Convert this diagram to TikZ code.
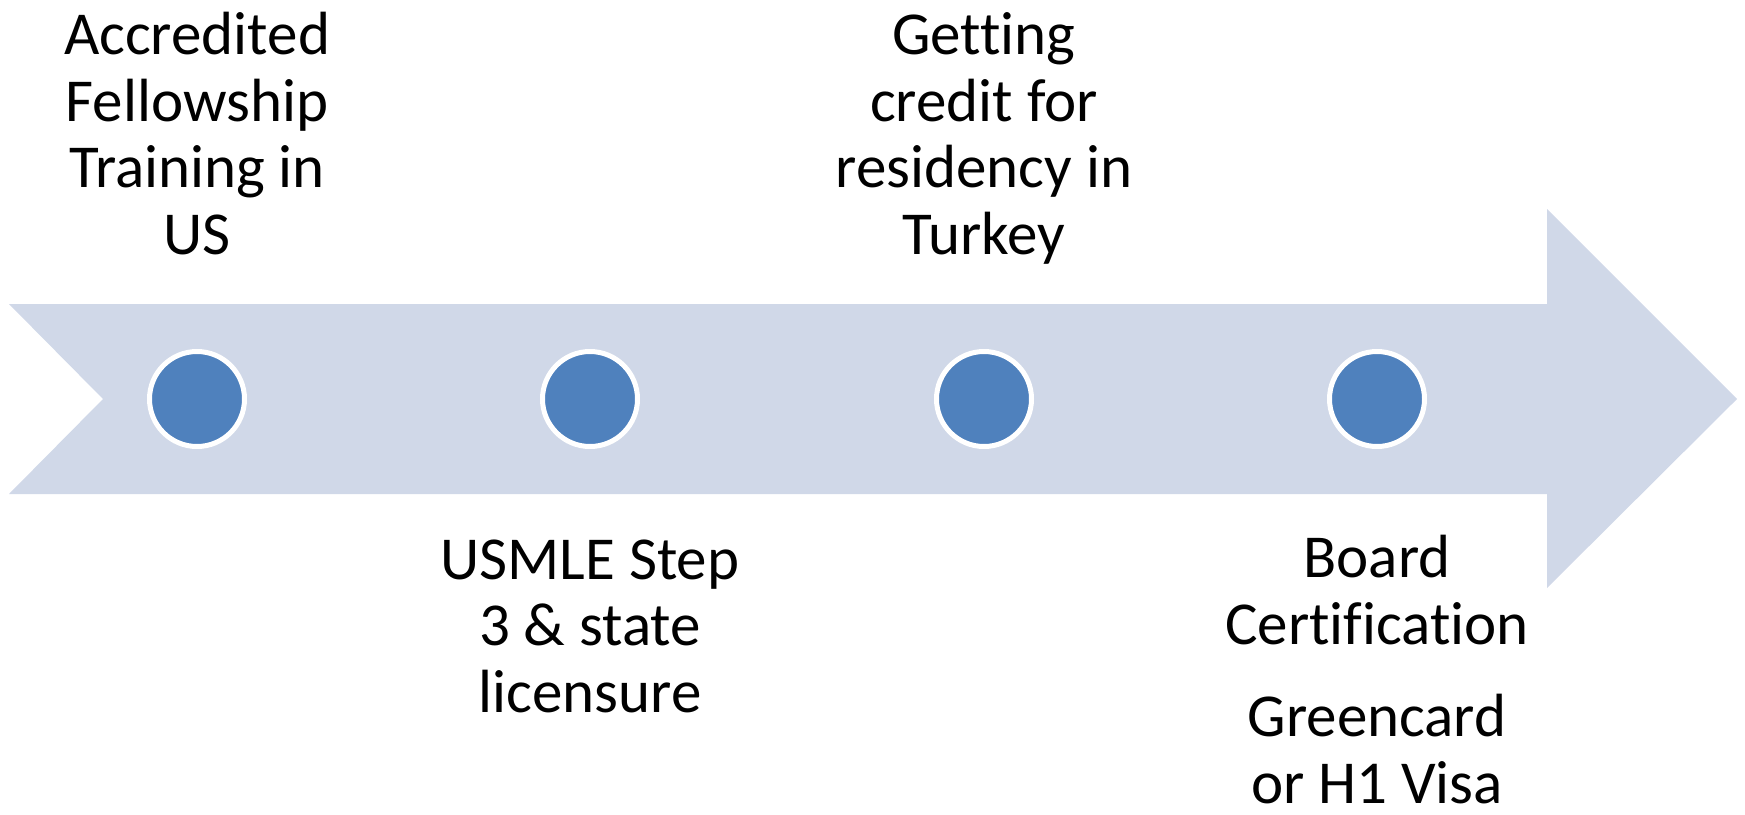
\documentclass[tikz,border=0pt]{standalone}
\usepackage{fontspec}
\setmainfont[Ligatures=NoCommon]{Carlito}
\definecolor{arrowfill}{HTML}{D0D8E8}
\definecolor{dotblue}{HTML}{4F81BD}
\begin{document}
\begin{tikzpicture}[x=1pt,y=-1pt,
  dot/.style={circle,fill=dotblue,draw=white,line width=5pt,minimum size=95pt,inner sep=0pt},
  txt/.style={align=center,font=\fontsize{61}{66.5}\selectfont,inner sep=0pt,anchor=base}]
\useasboundingbox (0,0) rectangle (1745,814);
\fill[arrowfill] (9,304) -- (1547,304) -- (1547,209) -- (1737,399) -- (1547,588)
  -- (1547,494) -- (9,494) -- (103,399) -- cycle;
\node[dot] (d1) at (197,399) {};
\node[dot] (d2) at (590,399) {};
\node[dot] (d3) at (984,399) {};
\node[dot] (d4) at (1377,399) {};
\node[txt] (t1) at (197,254) {Accredited\\Fellowship\\Training in\\US};
\node[txt] (t3) at (984,254) {Getting\\credit for\\residency in\\Turkey};
\node[txt] (t2) at (590,712) {USMLE Step\\3 \& state\\licensure};
\node[txt] (t4) at (1377,803) {Board\\Certification\\[26pt]Greencard\\or H1 Visa};
\end{tikzpicture}
\end{document}
